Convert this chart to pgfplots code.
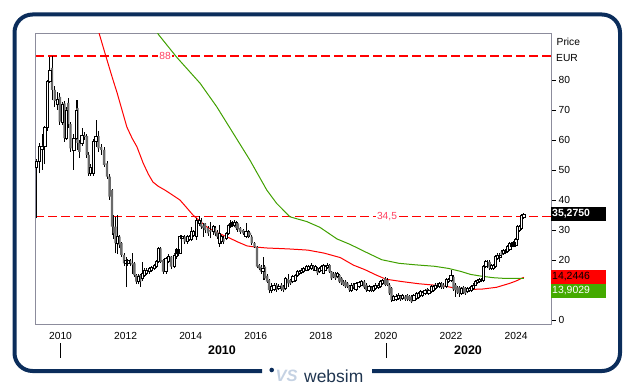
\documentclass[border=0pt]{standalone}
\usepackage{fontspec}
\setmainfont{Liberation Sans}
\usepackage{pgfplots}
\usepackage{pgfplotstable}
\pgfplotsset{compat=1.18}
\definecolor{navy}{HTML}{0B2D5B}
\definecolor{framegray}{HTML}{8C8C9C}
\definecolor{candlegray}{HTML}{6A6A6A}
\definecolor{magreen}{HTML}{40A000}
\definecolor{boxgreen}{HTML}{44AA00}
\definecolor{lblred}{HTML}{FF4060}
\definecolor{logolight}{HTML}{C5D2E3}
\definecolor{logodark}{HTML}{1F3550}

\pgfplotstableread{
x o c h l
2009.26 51 53 53.5 34
2009.35 52.8 57.8 58.9 48.9
2009.43 57 58 62 50
2009.52 58 64.3 64.7 52
2009.59 64.3 79.4 80 63
2009.67 79.4 83.3 87.5 79
2009.74 84 76.7 88 73.3
2009.82 76.7 73 78 71
2009.90 72 73.5 76 70
2009.98 74.4 66.1 75.6 65
2010.06 66 72 72.5 65
2010.12 72.2 60.6 73 59.4
2010.19 60.6 70 71 60
2010.24 72.4 65.3 74 64
2010.31 65.3 57.2 66 56
2010.41 56.7 60.6 62 50
2010.48 60.6 70 73.3 60
2010.52 70.6 59 73.3 56.7
2010.58 59 56 60 54
2010.66 59 61.5 64 58
2010.74 61.5 61 62.5 60
2010.81 61.3 55 62 54
2010.87 55 48.9 56 48
2010.92 49 51 52 48
2011.00 49 59.4 60.2 48
2011.09 59.4 61.3 66.7 57.8
2011.17 61.3 57.2 63 56
2011.25 57.6 56.7 58.5 55
2011.34 56.7 51.7 57.5 51
2011.43 52.2 47.8 53 47
2011.51 47.8 41.1 48.5 40
2011.58 43.3 31.1 43.5 28.3
2011.64 31.1 28.9 35 27
2011.69 31.1 25.6 34.4 22.2
2011.75 25.6 27.8 35 22
2011.81 27.8 25 28.5 24
2011.87 25.6 21.7 26 21
2011.95 21.7 18.9 22.5 18
2012.01 18.9 20 21 11
2012.07 18.9 19.8 20.5 18
2012.14 19.8 18.9 20.5 18
2012.21 19 18.5 22.2 15.5
2012.27 18.9 15 19.5 14.5
2012.33 15 12.8 15.5 12
2012.39 12.8 14.7 15.5 12
2012.45 15 12.8 15.5 11.1
2012.51 13.9 15.5 19.4 13
2012.58 15 16.7 17.5 14.5
2012.64 15.5 16.7 17.2 15
2012.72 16.1 17.2 17.8 15.5
2012.80 16.7 17.5 18 16
2012.88 17.2 18.3 18.8 16.8
2012.95 17.8 19.4 20 17.3
2013.01 19.4 23.9 24.2 19
2013.07 23.9 19.4 24.2 19
2013.15 20 16.1 20.5 15.5
2013.24 16.1 20.6 21 15.5
2013.31 19.4 21.1 22 19
2013.40 21.1 17.8 21.5 17
2013.49 17.8 21.7 22.2 17.3
2013.55 21.1 23.6 24 20.5
2013.61 22.2 23.6 24.5 21.5
2013.67 22.2 27.8 28.3 22
2013.73 27.2 27.8 28.5 26.5
2013.82 27.8 26.1 28.5 25.5
2013.89 26.1 27.8 28.3 25.5
2013.95 26.9 27.8 28.5 26.5
2014.02 26.9 29.4 31.1 26.5
2014.08 28.3 29.4 30 27.8
2014.18 27.8 33.3 33.9 26.7
2014.26 32.2 33.3 34.8 31.5
2014.32 32.8 31.1 34 30.5
2014.38 31.5 30.6 32.2 27.8
2014.44 32.2 30 32.5 29
2014.53 30.6 28.9 31.5 28
2014.61 30 29.5 32.8 27.2
2014.69 29.4 31.1 31.8 28.5
2014.75 30.6 28.9 31.5 28
2014.81 29.4 27.8 30 27
2014.89 25.6 28.9 31.7 24.5
2014.95 26.1 27.8 28.5 25.5
2015.01 27.2 26.1 28 25.5
2015.09 27.2 28.9 29.5 26.8
2015.15 28.9 31.7 32 28.5
2015.21 31.3 32.2 33.3 30.8
2015.27 31.7 32.4 33 31
2015.33 31.6 32.4 33.3 31
2015.39 32.4 30.6 33 30
2015.45 32.2 30.2 32.8 29.5
2015.52 30.6 29.4 31 28.8
2015.61 30 28.9 30.5 28.3
2015.70 27.8 29.4 32.2 27.2
2015.76 29.4 27.8 30 27.2
2015.82 29.1 28.3 29.6 27.8
2015.88 27.8 25.6 28.2 25
2015.96 25.6 24.4 26 24
2016.04 24.4 17.8 24.8 17.2
2016.10 18.3 17.2 18.8 16.8
2016.16 17.8 16.1 18.2 15.5
2016.22 16.1 17.2 21.1 13.3
2016.28 17.8 13.9 18.3 13.5
2016.35 14.7 12.8 15.2 12.3
2016.41 13.3 10 13.8 8.9
2016.48 10 11.3 12.2 9
2016.56 10.2 11.7 12.2 9.6
2016.64 11.7 10.1 12.5 9.5
2016.71 10.6 11.3 12 10
2016.79 11.7 10.2 12.2 9.6
2016.85 11.1 10 11.6 9.2
2016.91 10.6 13.9 14.5 10
2016.99 13.6 12.2 15.5 11.1
2017.07 13.3 12.2 13.8 11.7
2017.14 12.8 14.4 15 12.2
2017.21 13.3 15 15.5 12.8
2017.27 15 16.1 16.6 14.5
2017.34 15.6 16.1 16.8 15
2017.41 15.8 16.7 17.2 15.3
2017.47 16.1 17.2 17.8 15.6
2017.55 16.7 17.8 18.3 16.2
2017.62 16.9 17.8 18.3 16.4
2017.70 17.2 18.3 19 16.7
2017.78 18 16.9 18.5 16.4
2017.84 16.7 17.8 18.5 16.2
2017.90 17.2 15.6 17.8 15
2017.96 16.1 17.2 17.8 15.6
2018.02 16.7 17.8 18.3 16.2
2018.08 15.6 18.3 18.8 15.2
2018.14 16.7 18 18.5 16.2
2018.21 17.6 18.3 18.9 17
2018.27 18.3 16.1 18.8 15.6
2018.33 16.1 13.9 16.5 13.4
2018.39 15.5 14.4 16 13.9
2018.45 15.5 13.9 16 13.4
2018.51 14.4 15.5 16 13.9
2018.57 15 12.8 15.5 12.2
2018.64 13.9 12.2 14.4 11.7
2018.70 12.8 11.7 13.3 11.2
2018.76 12.8 11.1 13.3 10.6
2018.82 12.2 11.1 12.7 10.6
2018.88 11.3 10 11.8 9.5
2018.94 10 11.7 12.2 9.5
2019.00 11.7 10.9 12.2 10.4
2019.08 10.2 12.2 12.8 9.7
2019.17 11.3 12.4 12.9 10.8
2019.24 11.7 12.8 13.3 11.2
2019.33 12.8 10.9 13.3 10.4
2019.40 11.7 10 12.2 9.5
2019.48 10 11.1 11.6 9.5
2019.56 10.9 9.8 11.4 9.3
2019.62 10 11.1 11.6 9.5
2019.68 10.6 11.7 12.2 10.1
2019.76 10.9 11.7 12.2 10.4
2019.83 11.3 12.8 13.3 10.8
2019.90 12.2 13.3 13.8 11.7
2019.97 13.9 11.7 14.4 11.2
2020.05 13.3 11.7 14 11.2
2020.11 11.7 8.9 12.2 8.4
2020.17 10.6 6.7 11.1 6
2020.23 6.7 7.8 8.4 6.2
2020.31 7 8 8.6 6.5
2020.39 7.2 8.3 8.9 6.7
2020.45 8 6.9 8.5 6.4
2020.51 7.2 8.3 8.8 6.7
2020.59 7.8 6.9 8.3 6.4
2020.65 8.3 6.9 8.8 6.4
2020.71 8 6.7 8.5 6.2
2020.79 7.8 6.1 8.3 5.6
2020.86 6.7 8.3 8.8 6.2
2020.94 7.2 8.9 9.4 6.7
2021.00 7.5 8.9 9.4 7
2021.06 8.3 9.4 9.9 7.8
2021.12 8.3 9.1 9.6 7.8
2021.20 8.9 10 10.5 8.4
2021.26 10.2 9.1 10.7 8.6
2021.32 8.9 10 10.5 8.4
2021.40 9.4 11.1 11.6 8.9
2021.46 10 11.3 11.8 9.5
2021.52 10.6 11.7 12.2 10.1
2021.59 11.1 11.7 12.2 10.6
2021.65 11.1 12.2 12.7 10.6
2021.71 12.2 10.9 12.7 10.4
2021.77 11.7 10.9 12.2 10.4
2021.85 11.1 13.6 14.1 10.6
2021.92 12.8 13.6 14.1 12.3
2022.00 13.3 15 16.7 12.8
2022.08 14.4 10.2 15 9.7
2022.14 11.7 10 12.2 7.8
2022.20 10.9 9.1 11.4 8.6
2022.26 10.9 8.9 11.4 7.8
2022.32 8.9 10.6 11.1 8.4
2022.38 10.9 9.1 11.4 8.6
2022.44 10.6 8.9 11.1 8.4
2022.51 9.4 10.6 11.1 8.9
2022.57 9.8 10.6 11.1 9.3
2022.63 10 11.1 11.6 9.5
2022.69 10.6 11.7 12.2 10.1
2022.75 11.7 12.8 13.3 11.2
2022.81 12.4 13.3 13.8 11.9
2022.88 12.8 13.6 14.1 12.3
2022.94 13.1 13.6 14.1 12.6
2023.00 13.3 18 18.5 12.8
2023.07 17.8 19.4 19.9 17.3
2023.13 19.4 17.8 19.9 17.3
2023.19 19.4 17.2 19.9 16.7
2023.25 17.2 18.3 18.8 16.7
2023.31 17.2 18.3 18.8 16.7
2023.37 18 21.3 21.8 17.5
2023.44 20.6 21.7 22.2 20.1
2023.50 20.9 21.7 22.2 19.5
2023.56 22.8 21.7 23.3 21.2
2023.62 22.2 23.3 23.8 21.7
2023.68 22.4 23.3 23.8 21.9
2023.74 22.8 24.4 24.9 22.3
2023.81 23.6 25.6 26.1 23.1
2023.87 24.4 25.6 26.1 23.9
2023.93 24.7 25.8 26.3 24.2
2023.99 25 26.9 27.4 24.5
2024.05 26.9 31.1 31.6 26.4
2024.11 30 31.1 31.6 29.5
2024.17 30.6 35 35.5 30.1
2024.24 34.2 35.275 35.8 33.7
}\price

\pgfplotstableread{
x y
2011.12 98
2011.40 87.7
2011.60 80.5
2011.74 75.7
2011.90 69.6
2012.04 64.3
2012.20 60.6
2012.35 57.7
2012.54 52.3
2012.70 48.6
2012.84 46
2013.00 44.6
2013.21 43.3
2013.45 41.6
2013.67 40
2013.88 37.4
2014.07 35
2014.30 32.8
2014.50 31
2014.80 29.2
2015.12 27.7
2015.45 26
2015.73 24.7
2016.00 24.3
2016.35 24
2017.00 23.7
2017.60 23.3
2018.10 22.3
2018.60 20.8
2019.00 18.3
2019.35 16.8
2019.70 15
2020.00 13.6
2020.50 12.8
2021.00 12.1
2021.50 11.6
2021.90 11.1
2022.20 10.5
2022.60 10.2
2022.95 10.3
2023.40 10.9
2023.80 12.2
2024.00 13.0
2024.24 14.2446
}\mared

\pgfplotstableread{
x y
2012.90 98
2013.00 95.3
2013.57 87.6
2014.29 78.9
2014.80 71.1
2015.31 62.2
2015.82 53.3
2016.34 43.3
2016.64 38.9
2017.05 34.4
2017.57 32.8
2017.97 30.9
2018.50 27
2018.90 25.2
2019.35 22.8
2019.87 20.1
2020.40 18.9
2020.90 18.4
2021.50 17.9
2021.92 17.2
2022.30 16.2
2022.60 15.2
2022.94 14.6
2023.30 14.1
2023.60 13.9
2024.00 13.9
2024.24 13.9029
}\magreentab

\pgfplotsset{
  chartframe/.style={
    at={(35bp,67bp)}, anchor=south west,
    scale only axis, width=516bp, height=290bp,
    xmin=2009.216, xmax=2025.074, ymin=-1.333, ymax=95.333},
}

\begin{document}
\begin{tikzpicture}
\begin{scope}[x=1bp,y=1bp]
\path[use as bounding box] (0,0) rectangle (635,391);
\draw[navy, line width=4bp, rounded corners=18bp] (262,20) -- (14.5,20) -- (14.5,376.5) -- (620,376.5) -- (620,20) -- (372,20);
\fill[navy] (271.7,21) circle (2.3);
\node[anchor=base west, inner sep=0pt, text=logolight, font=\fontsize{16.5}{17}\selectfont\bfseries\itshape] at (275.5,9.3) {VS};
\node[anchor=base west, inner sep=0pt, text=logodark, font=\fontsize{17.5}{19}\selectfont] at (304,8.7) {websim};
\draw[red, line width=1.1bp, dash pattern=on 9bp off 4bp] (35,335) -- (551,335);
\draw[red, line width=1.1bp, dash pattern=on 9bp off 4bp] (35,174.5) -- (551,174.5);
\node[fill=white, inner sep=1.5bp, text=lblred, font=\fontsize{10.3}{12}\selectfont] at (165,335) {88};
\node[fill=white, inner sep=1.5bp, text=lblred, font=\fontsize{10.3}{12}\selectfont] at (387,174.5) {34,5};
\end{scope}

\begin{axis}[
  chartframe,
  axis line style={framegray, line width=1bp},
  xtick={2010,2012,2014,2016,2018,2020,2022,2024},
  xticklabels={2010,2012,2014,2016,2018,2020,2022,2024},
  xtick style={draw=none},
  xticklabel style={anchor=base, yshift=-10bp, font=\fontsize{10.3}{12}\selectfont},
  ytick={0,20,30,40,50,60,70,80},
  yticklabels={0,20,30,40,50,60,70,80},
  ytick pos=right, yticklabel pos=right,
  tick align=outside, major tick length=5bp,
  ytick style={black, line width=0.8bp},
  yticklabel style={anchor=west, inner sep=0pt, xshift=2.5bp, font=\fontsize{10.3}{12}\selectfont},
]
\addplot[red, line width=1bp, mark=none, forget plot] table[x=x,y=y] {\mared};
\addplot[magreen, line width=1bp, mark=none, forget plot] table[x=x,y=y] {\magreentab};
% wicks (low to high)
\addplot[black, line width=0.8bp, mark=none, forget plot,
  quiver={u=0, v=\thisrow{h}-\thisrow{l}}]
  table[x=x, y=l] {\price};
\end{axis}

% candle bodies: invisible base up to min(open,close), then the body on top
\begin{axis}[chartframe, hide axis, ybar stacked, bar width=2.3bp]
\addplot[draw=none, fill=none, forget plot]
  table[x=x, y expr={min(\thisrow{o},\thisrow{c})}] {\price};
\addplot[fill=white, draw=black, line width=0.7bp, forget plot]
  table[x=x, y expr={max(\thisrow{c}-\thisrow{o},0)}] {\price};
\addplot[fill=candlegray, draw=none, forget plot]
  table[x=x, y expr={max(\thisrow{o}-\thisrow{c},0)}] {\price};
\end{axis}

\begin{scope}[x=1bp,y=1bp]
\fill[black] (551,170) rectangle (606,184);
\node[anchor=west, inner sep=0pt, text=white, font=\fontsize{10.5}{12}\selectfont\bfseries] at (552,177) {35,2750};
\fill[red] (551,107) rectangle (606,121);
\node[anchor=west, inner sep=0pt, text=black, font=\fontsize{10.5}{12}\selectfont] at (552,114) {14,2446};
\fill[boxgreen] (551,93) rectangle (606,107);
\node[anchor=west, inner sep=0pt, text=white, font=\fontsize{10.5}{12}\selectfont] at (552,100) {13,9029};
\node[anchor=base west, inner sep=0pt, font=\fontsize{10.3}{12}\selectfont] at (556.5,345.5) {Price};
\node[anchor=base west, inner sep=0pt, font=\fontsize{10.3}{12}\selectfont] at (556,329.5) {EUR};
\node[anchor=base, inner sep=0pt, font=\fontsize{12.5}{14}\selectfont\bfseries] at (222,36.5) {2010};
\node[anchor=base, inner sep=0pt, font=\fontsize{12.5}{14}\selectfont\bfseries] at (468,36.5) {2020};
\draw[black, line width=1bp] (60.5,48) -- (60.5,33);
\draw[black, line width=1bp] (386,48) -- (386,33);
\end{scope}
\end{tikzpicture}
\end{document}
